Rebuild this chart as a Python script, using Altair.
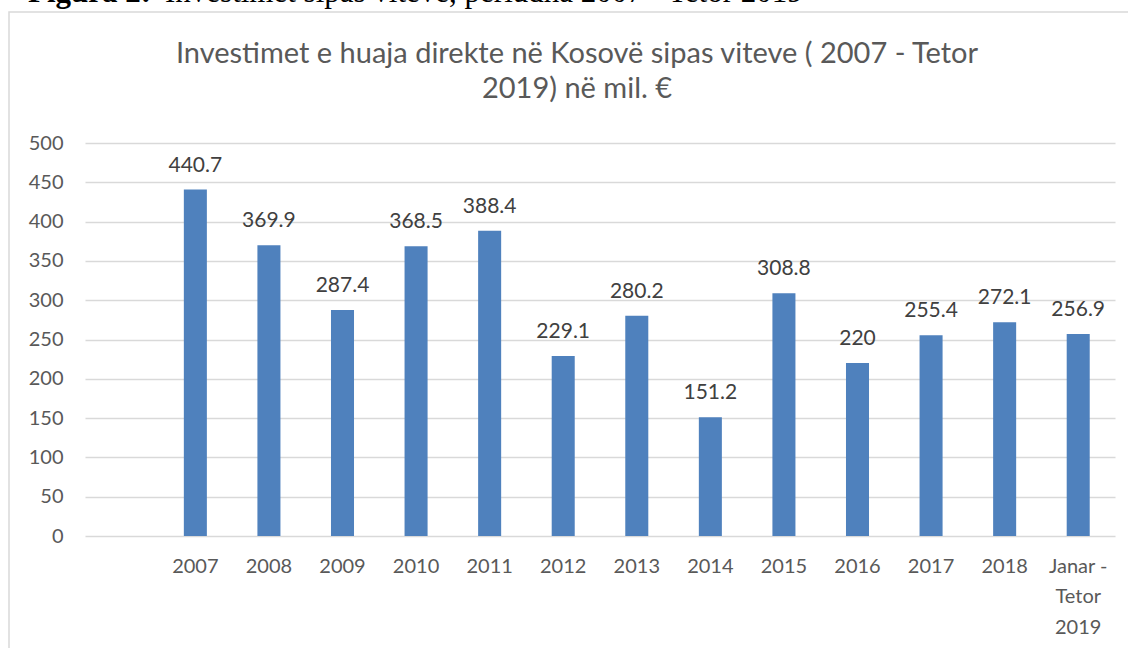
import altair as alt
import pandas as pd

# ---- data ----
categories = ["2007", "2008", "2009", "2010", "2011", "2012", "2013", "2014",
              "2015", "2016", "2017", "2018", "Janar -\nTetor\n2019"]
values = [440.7, 369.9, 287.4, 368.5, 388.4, 229.1, 280.2, 151.2,
          308.8, 220, 255.4, 272.1, 256.9]
blank_slot = " "
y_ticks = [0, 50, 100, 150, 200, 250, 300, 350, 400, 450, 500]
title_lines = ["Investimet e huaja direkte në Kosovë sipas viteve ( 2007 - Tetor",
               "2019) në mil. €"]
caption_bold = "Figura 2:"
caption_text = "Investimet sipas viteve, periudha 2007 - Tetor 2019"

df = pd.DataFrame({"cat": categories, "value": values})
df["label"] = [f"{v:g}" for v in values]

W, H = 1030, 393
TXT = "#595959"
FONT = "Lato"

x_enc = alt.X(
    "cat:N",
    sort=None,
    scale=alt.Scale(domain=[blank_slot] + categories, paddingInner=0.687, paddingOuter=0.3435),
    axis=alt.Axis(title=None, labelAngle=0, domain=False, ticks=False, grid=False,
                  labelPadding=20, labelFontSize=20, labelColor=TXT, labelFont=FONT,
                  labelLineHeight=30.5, labelBaseline="top",
                  labelExpr="split(datum.label, '\\n')"),
)
y_enc = alt.Y(
    "value:Q",
    scale=alt.Scale(domain=[0, 500], nice=False),
    axis=alt.Axis(values=y_ticks, title=None, domain=False, ticks=False,
                  gridColor="#d9d9d9", gridWidth=1.3, labelPadding=22,
                  labelFontSize=20, labelColor=TXT, labelFont=FONT),
)

base = alt.Chart(df)
bars = base.mark_bar(color="#4F81BD").encode(x=x_enc, y=y_enc)
labels = base.mark_text(dy=-18, baseline="alphabetic", fontSize=21, color="#404040",
                        font=FONT).encode(x=x_enc, y=y_enc, text="label:N")

one = pd.DataFrame({"k": [0]})
frame = alt.Chart(one).mark_rect(fillOpacity=0, stroke="#d9d9d9", strokeWidth=1.5).encode(
    x=alt.value(-76), x2=alt.value(1300), y=alt.value(-131), y2=alt.value(900))

title = alt.Chart(pd.DataFrame({"t": ["\n".join(title_lines)]})).mark_text(
    lineBreak="\n", fontSize=29, lineHeight=35, color=TXT, font=FONT,
    align="center", baseline="alphabetic").encode(
    text="t:N", x=alt.value(492), y=alt.value(-80))

cap_b = alt.Chart(pd.DataFrame({"t": [caption_bold]})).mark_text(
    fontSize=31, font="Liberation Serif", fontWeight="bold", color="black",
    align="left", baseline="alphabetic").encode(
    text="t:N", x=alt.value(-57), y=alt.value(-141))
cap_r = alt.Chart(pd.DataFrame({"t": [caption_text]})).mark_text(
    fontSize=31, font="Liberation Serif", color="black",
    align="left", baseline="alphabetic").encode(
    text="t:N", x=alt.value(80), y=alt.value(-141))

chart = alt.layer(frame, cap_b, cap_r, title, bars, labels).properties(
    width=W, height=H,
    autosize=alt.AutoSizeParams(type="none"),
    padding={"left": 85, "top": 143, "right": 13, "bottom": 112},
    background="white",
).configure_view(strokeWidth=0)

chart.save("out.html", embed_options={"renderer": "svg", "actions": False})
